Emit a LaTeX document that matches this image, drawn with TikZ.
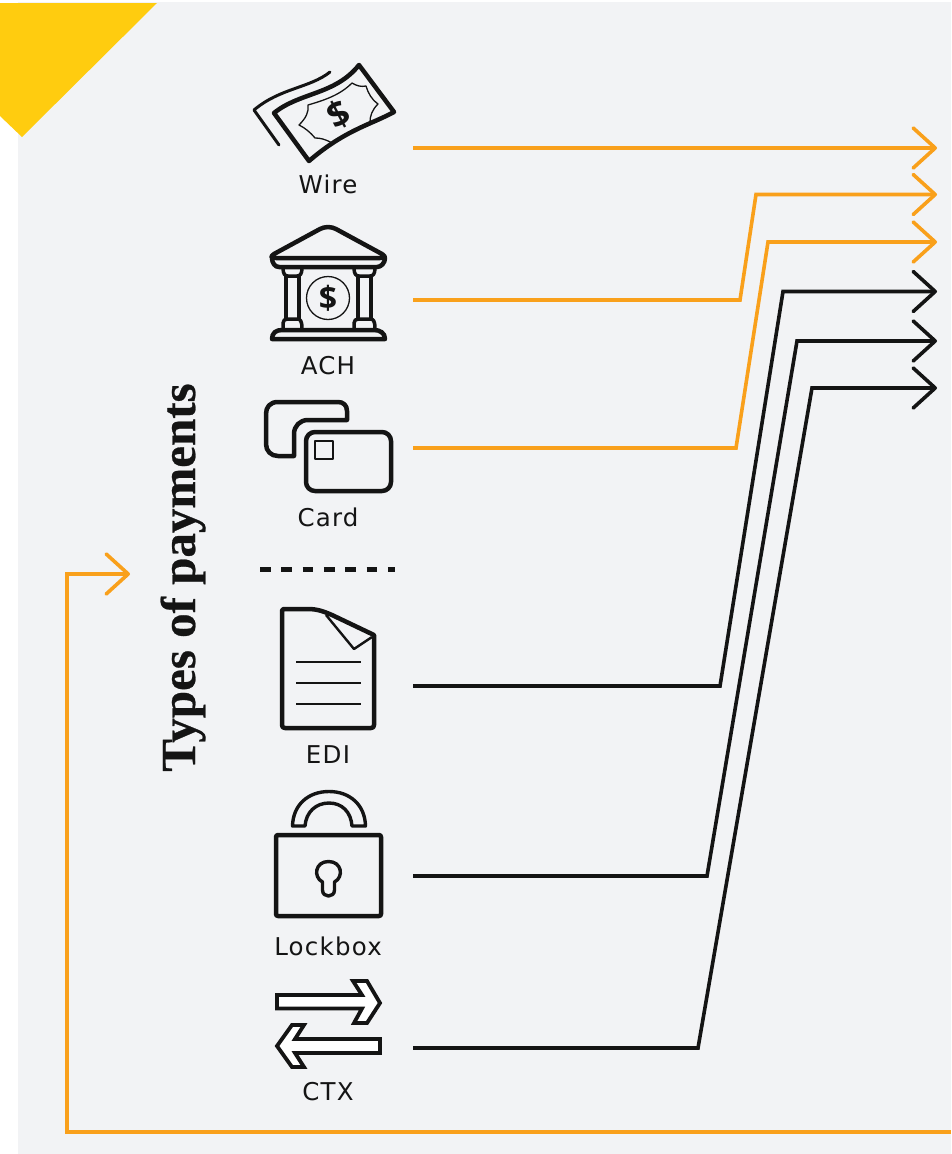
\documentclass[tikz,border=0pt]{standalone}
\usepackage{fontspec}
\setmainfont{DejaVu Sans}[LetterSpace=5]
\newfontfamily\titlefont{Liberation Serif}[FakeBold=0.5]
\newfontfamily\signfont{Open Sans}
\usetikzlibrary{arrows.meta}
\definecolor{panel}{HTML}{F2F3F5}
\definecolor{corner}{HTML}{FFCC0F}
\definecolor{amber}{HTML}{F9A01B}
\definecolor{ink}{HTML}{141414}
\tikzset{
  x=1pt,y=-1pt,
  conn/.style={line width=3.6pt,line join=miter,-{Straight Barb[length=22pt,width=40pt,round]}},
  amberline/.style={conn,draw=amber},
  inkline/.style={conn,draw=ink},
  icon/.style={draw=ink,line width=4.5pt,line join=round,line cap=round},
  thinicon/.style={draw=ink,line width=1.3pt,line join=round},
  lab/.style={anchor=base,text=ink,font=\fontsize{24.5}{28}\selectfont,inner sep=0pt},
  dollar/.style={text=ink,inner sep=0pt,font=\signfont\bfseries\fontsize{#1}{#1}\selectfont},
}
\begin{document}
\begin{tikzpicture}
\useasboundingbox (0,0) rectangle (951,1154);
\fill[white] (0,0) rectangle (951,1154);
\fill[panel] (18,2) rectangle (951,1154);
\fill[corner] (0,3) -- (157,3) -- (22,137) -- (0,116) -- cycle;

% title
\node[rotate=90,anchor=base,text=ink,inner sep=0pt,font=\titlefont\bfseries\fontsize{49}{54}\selectfont] (title) at (195,577.5) {Types of payments};

% wire icon
\draw[icon] (274,113) .. controls (300,92) and (335,95) .. (359,65) -- (394,112) .. controls (370,125) and (345,130) .. (309,161) -- cycle;
\draw[icon,line width=3pt] (330,72) .. controls (310,88) and (280,88) .. (254,110) -- (279,145);
\draw[thinicon] (299,125) .. controls (306,118) and (309,112) .. (308,105) .. controls (325,100) and (340,95) .. (352,83) .. controls (357,86) and (361,87) .. (366,86) .. controls (368,93) and (372,100) .. (378,104) .. controls (372,110) and (370,116) .. (370,122) .. controls (355,128) and (345,136) .. (332,143) .. controls (325,139) and (320,138) .. (315,138) .. controls (310,132) and (305,128) .. (299,125) -- cycle;
\node[dollar=36,rotate=28] (wiresign) at (339,115) {\$};
\node[lab] (wire) at (328,193) {Wire};

% ach icon
\draw[icon] (328,227) .. controls (325,227) and (322,228) .. (320,229) -- (274,254) .. controls (269,258) and (272,258) .. (276,258) -- (380,258) .. controls (385,258) and (387,258) .. (382,254) -- (336,229) .. controls (334,228) and (331,227) .. (328,227) -- cycle;
\draw[icon] (272,258) .. controls (272,263) and (275,267) .. (279,267) -- (377,267) .. controls (381,267) and (385,263) .. (385,258);
\draw[icon,line width=3.5pt] (283,268) .. controls (283,274) and (285,276) .. (288,276) -- (297,276) .. controls (300,276) and (302,274) .. (302,268);
\draw[icon,line width=3.5pt] (354,268) .. controls (354,274) and (356,276) .. (359,276) -- (370,276) .. controls (373,276) and (375,274) .. (375,268);
\draw[icon,line width=3.5pt] (286,276) -- (286,319) (299,276) -- (299,319) (358,276) -- (358,319) (371,276) -- (371,319);
\draw[icon,line width=3.5pt] (283,329) -- (283,323) .. controls (283,320) and (285,319) .. (288,319) -- (297,319) .. controls (300,319) and (302,320) .. (302,329);
\draw[icon,line width=3.5pt] (354,329) -- (354,323) .. controls (354,320) and (356,319) .. (359,319) -- (370,319) .. controls (373,319) and (375,320) .. (375,329);
\draw[icon] (272,339) .. controls (272,333) and (276,330) .. (282,330) -- (374,330) .. controls (380,330) and (385,333) .. (385,339) -- cycle;
\draw[thinicon] (328,298) circle[radius=21.5];
\node[dollar=32] (achsign) at (328,298) {\$};
\node[lab] (ach) at (328,374) {ACH};

% card icon
\draw[icon] (347,420) -- (347,411) .. controls (347,405) and (343,402) .. (338,402) -- (278,402) .. controls (270,402) and (266,407) .. (266,414) -- (266,444) .. controls (266,451) and (271,456) .. (278,456) -- (294,456) -- (294,434) .. controls (294,426) and (300,420) .. (308,420) -- cycle;
\draw[icon,fill=panel,rounded corners=9pt] (306,432) rectangle (391,491);
\draw[thinicon] (315,441) rectangle (333,459);
\node[lab] (card) at (328,526) {Card};

% separator
\coordinate (sepa) at (260,569);
\coordinate (sepb) at (395,569);
\draw[draw=ink,line width=5pt,dash pattern=on 10.6pt off 10.7pt] (sepa) -- (sepb);

% edi icon
\draw[icon] (284,609) -- (308,609) .. controls (318,609) and (325,612) .. (332,615) -- (374,635) -- (374,725) .. controls (374,727) and (373,728) .. (371,728) -- (285,728) .. controls (283,728) and (282,727) .. (282,725) -- (282,611) .. controls (282,610) and (283,609) .. (284,609) -- cycle;
\draw[draw=ink,line width=2.4pt,line join=round] (326,615) -- (354,649) -- (372,637);
\draw[thinicon] (296,662) -- (361,662) (296,683) -- (361,683) (296,704) -- (361,704);
\node[lab] (edi) at (328,763) {EDI};

% lockbox icon
\draw[icon,rounded corners=2pt] (276,835) rectangle (381,916);
\draw[draw=ink,line width=3.4pt,line join=round] (292.5,826) .. controls (293,805) and (308,791.5) .. (329,791.5) .. controls (350,791.5) and (365,805) .. (365.5,826) -- (352,826) .. controls (351,812) and (342,803) .. (329,803) .. controls (316,803) and (306,812) .. (305,826) -- cycle;
\draw[draw=ink,line width=3.4pt,line join=round] (322.5,882) .. controls (313,877) and (315,861.5) .. (328.5,861.5) .. controls (342,861.5) and (344,877) .. (334.5,882) -- (334.5,890) .. controls (334.5,898) and (322.5,898) .. (322.5,890) -- cycle;
\node[lab] (lockbox) at (328,955) {Lockbox};

% ctx icon
\draw[draw=ink,fill=white,line width=3.8pt,line join=miter] (277,995) -- (362,995) -- (353,981) -- (367,981) -- (380,1003) -- (367,1023) -- (354,1023) -- (362,1008.5) -- (277,1008.5) -- cycle;
\draw[draw=ink,fill=white,line width=3.8pt,line join=miter] (380,1039) -- (295,1039) -- (304,1025) -- (292,1025) -- (277,1046) -- (292,1067) -- (304,1067) -- (295,1053) -- (380,1053) -- cycle;
\node[lab] (ctx) at (328,1100) {CTX};

% connector ends
\coordinate (wireOut) at (413,148);
\coordinate (achOut) at (413,300);
\coordinate (cardOut) at (413,448);
\coordinate (ediOut) at (413,686);
\coordinate (lockOut) at (413,876);
\coordinate (ctxOut) at (413,1048);
\coordinate (wireIn) at (937,148);
\coordinate (achIn) at (937,194.5);
\coordinate (cardIn) at (937,242);
\coordinate (ediIn) at (937,291.5);
\coordinate (lockIn) at (937,341);
\coordinate (ctxIn) at (937,388);
\coordinate (loopStart) at (951,1132);
\coordinate (loopEnd) at (130,574);

\draw[amberline] (wireOut) -- (wireIn);
\draw[amberline] (achOut) -- (740,300) -- (756,194.5) -- (achIn);
\draw[amberline] (cardOut) -- (736,448) -- (768,242) -- (cardIn);
\draw[inkline] (ediOut) -- (720,686) -- (783,291.5) -- (ediIn);
\draw[inkline] (lockOut) -- (707,876) -- (797,341) -- (lockIn);
\draw[inkline] (ctxOut) -- (698,1048) -- (812,388) -- (ctxIn);
\draw[amberline] (loopStart) -- (67,1132) -- (67,574) -- (loopEnd);
\end{tikzpicture}
\end{document}
